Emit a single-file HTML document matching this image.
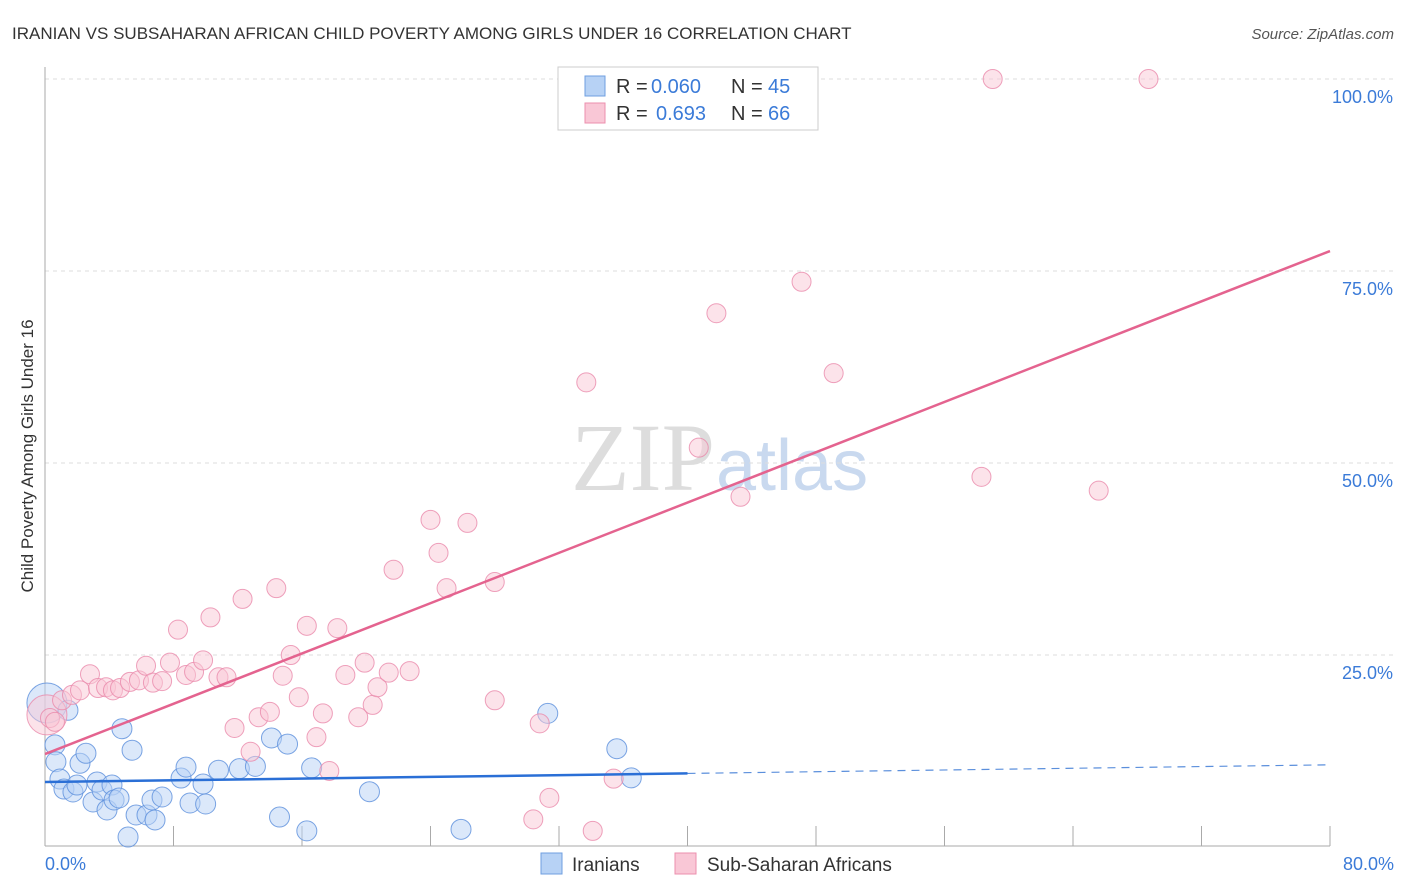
<!DOCTYPE html>
<html><head><meta charset="utf-8"><style>
body{margin:0;background:#fff;font-family:"Liberation Sans",sans-serif}
svg{display:block}
</style></head><body>
<svg id="chart" width="1406" height="892">
<text x="12" y="39" font-size="17" fill="#333">IRANIAN VS SUBSAHARAN AFRICAN CHILD POVERTY AMONG GIRLS UNDER 16 CORRELATION CHART</text>
<text x="1394" y="39" font-size="15" fill="#555" font-style="italic" text-anchor="end">Source: ZipAtlas.com</text>
<text x="715" y="490" font-size="96" fill="#ddd" font-family="Liberation Serif" text-anchor="end">ZIP</text>
<text x="716" y="490" font-size="72" fill="#c9d9ef">atlas</text>
<text transform="translate(33,456) rotate(-90)" font-size="17" fill="#333" text-anchor="middle">Child Poverty Among Girls Under 16</text>
<g id="grid"></g><g id="marks"></g>
<g>
<rect x="558" y="67" width="260" height="63" fill="#fff" stroke="#ccc"/>
<rect x="585" y="76" width="20" height="20" fill="#b7d2f5" stroke="#6f9fe0"/>
<rect x="585" y="103" width="20" height="20" fill="#f9c7d6" stroke="#ec8fae"/>
<text x="616" y="93" font-size="20" fill="#333">R =</text>
<text x="651" y="93" font-size="20" fill="#3b7bd8">0.060</text>
<text x="731" y="93" font-size="20" fill="#333">N =</text>
<text x="768" y="93" font-size="20" fill="#3b7bd8">45</text>
<text x="616" y="120" font-size="20" fill="#333">R =</text>
<text x="656" y="120" font-size="20" fill="#3b7bd8">0.693</text>
<text x="731" y="120" font-size="20" fill="#333">N =</text>
<text x="768" y="120" font-size="20" fill="#3b7bd8">66</text>
</g>
<g>
<rect x="541" y="853" width="21" height="21" fill="#b7d2f5" stroke="#6f9fe0"/>
<text x="572" y="871" font-size="19" fill="#333">Iranians</text>
<rect x="675" y="853" width="21" height="21" fill="#f9c7d6" stroke="#ec8fae"/>
<text x="707" y="871" font-size="19" fill="#333">Sub-Saharan Africans</text>
</g>
</svg>
<script>
const yTicks=[25,50,75,100];
const yTickLabels=["25.0%","50.0%","75.0%","100.0%"];
const xTickLabels=["0.0%","80.0%"];
const blueX=[0.12,0.62,0.68,0.93,1.18,1.43,1.74,1.99,2.18,2.55,2.99,3.24,3.55,3.86,4.17,4.30,4.61,4.79,5.17,5.42,5.67,6.35,6.66,6.85,7.29,8.47,8.78,9.03,9.84,10.0,10.8,12.1,13.1,14.1,14.6,15.1,16.3,16.6,20.2,25.9,31.3,35.6,36.5];
const blueY=[18.75,13.3,11.1,8.85,7.55,17.8,7.16,8.07,10.9,12.2,5.86,8.46,7.42,4.82,8.07,6.12,6.38,15.4,1.3,12.6,4.17,4.17,6.12,3.52,6.51,8.98,10.4,5.73,8.2,5.6,10.0,10.2,10.5,14.2,3.9,13.4,2.1,10.3,7.2,2.3,17.4,12.8,9.0];
const pinkX=[0.12,0.31,0.62,1.06,1.68,2.18,2.80,3.30,3.80,4.23,4.67,5.29,5.85,6.29,6.72,7.29,7.78,8.28,8.78,9.28,9.84,10.3,10.8,11.3,11.8,12.3,12.8,13.3,14.0,14.4,14.8,15.3,15.8,16.3,17.3,16.9,17.7,18.2,18.7,19.5,19.9,20.4,20.7,21.4,21.7,22.7,24.0,24.5,25.0,26.3,28.0,28.0,30.4,30.8,31.4,34.1,33.7,35.4,40.7,41.8,43.3,47.1,49.1,58.3,59.0,65.6,68.7];
const pinkY=[17.2,16.8,16.3,19.1,19.8,20.4,22.5,20.7,20.8,20.4,20.7,21.5,21.7,23.6,21.4,21.6,24.0,28.3,22.4,22.8,24.3,29.9,22.1,22.1,15.5,32.3,12.4,16.9,17.6,33.7,22.3,25.0,19.5,28.8,17.4,14.3,9.9,28.5,22.4,16.9,24.0,18.5,20.8,22.7,36.1,22.9,42.6,38.3,33.7,42.2,19.1,34.5,3.6,16.1,6.4,2.1,60.5,8.9,52.0,69.5,45.6,73.6,61.7,48.2,100,46.4,100];
const blueTrend=[8.46,10.7];
const pinkTrend=[12.1,77.6];
const X=v=>45+v*1285/80, Y=v=>847-v*7.68;
const NS="http://www.w3.org/2000/svg";
const grid=document.getElementById('grid'),marks=document.getElementById('marks');
function mk(p,tag,a){const e=document.createElementNS(NS,tag);for(const k in a)e.setAttribute(k,a[k]);p.appendChild(e);return e;}
yTicks.forEach((t,i)=>{
 const l=mk(grid,'line',{x1:45,x2:1394,y1:Y(t),y2:Y(t),stroke:'#ddd','stroke-dasharray':'4,4'});
 
 
 const tx=mk(grid,'text',{x:1393,y:Y(t)+24,'font-size':18,fill:'#3b7bd8','text-anchor':'end'});
 tx.textContent=yTickLabels[i];
 
 
});
const ax=mk(grid,'line',{x1:45,x2:45,y1:67,y2:846,stroke:'#aaa'});


const bx=mk(grid,'line',{x1:45,x2:1330,y1:846,y2:846,stroke:'#aaa'});


for(let i=1;i<=10;i++){const v=i*8;const t=mk(grid,'line',{x1:X(v),x2:X(v),y1:826,y2:846,stroke:'#aaa'});
 
 }
[[0,'start',45],[80,'end',1394]].forEach((d,i)=>{const t=mk(grid,'text',{x:d[2],y:870,'font-size':18,fill:'#3b7bd8','text-anchor':d[1]});t.textContent=xTickLabels[i];
 
 });
function dot(x,y,fill,stroke,r){const c=mk(marks,'circle',{cx:X(x),cy:Y(y),r:r,fill:fill,'fill-opacity':0.5,stroke:stroke,'stroke-opacity':0.8,'stroke-width':1});return c;}
blueX.forEach((x,i)=>{const c=dot(x,blueY[i],'#b7d2f5','#5b8fdc',i==0?20:10);
 
 });
pinkX.forEach((x,i)=>{const c=dot(x,pinkY[i],'#f9c7d6','#ea8aab',i==0?20:9.5);
 
 });
const bs=(blueTrend[1]-blueTrend[0])/80, bAt=v=>blueTrend[0]+bs*v;
const l1=mk(marks,'line',{x1:X(0),y1:Y(bAt(0)),x2:X(40),y2:Y(bAt(40)),stroke:'#2a6fd6','stroke-width':2.5});


const l2=mk(marks,'line',{x1:X(40),y1:Y(bAt(40)),x2:X(80),y2:Y(bAt(80)),stroke:'#5b8fdc','stroke-width':1.2,'stroke-dasharray':'8,6'});


const l3=mk(marks,'line',{x1:X(0),y1:Y(pinkTrend[0]),x2:X(80),y2:Y(pinkTrend[1]),stroke:'#e4638f','stroke-width':2.5});


</script>
</body></html>
